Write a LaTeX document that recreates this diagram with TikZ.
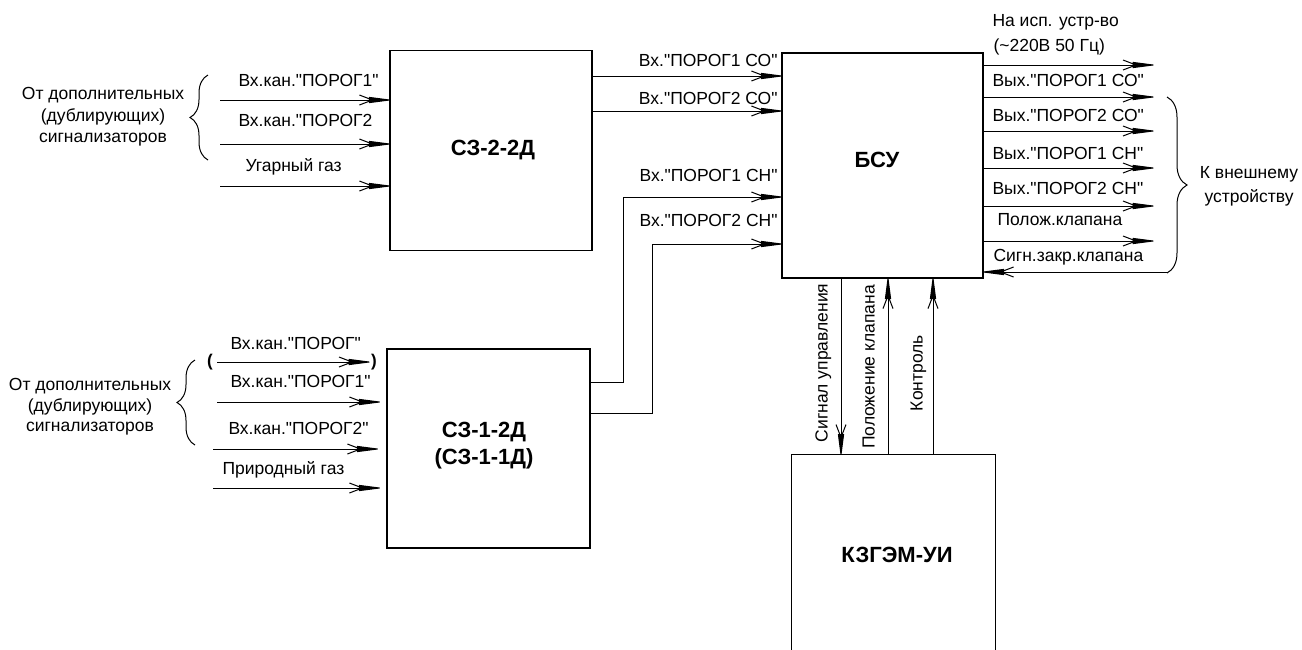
\documentclass[tikz,border=0pt]{standalone}
\usepackage{fontspec}
\setmainfont{Liberation Sans}[Ligatures=TeXOff]
\usetikzlibrary{arrows.meta,decorations.pathreplacing}
\pgfdeclarearrow{
  name=Dart,
  setup code={
    \pgfarrowssettipend{0pt}
    \pgfarrowssetlineend{-10pt}
    \pgfarrowssetbackend{-30pt}
    \pgfarrowshullpoint{0pt}{0pt}
    \pgfarrowshullpoint{-30pt}{5pt}
    \pgfarrowshullpoint{-30pt}{-5pt}
  },
  drawing code={
    \pgfsetdash{}{0pt}
    \pgfsetroundjoin
    \pgfpathmoveto{\pgfqpoint{0pt}{0pt}}
    \pgfpathlineto{\pgfqpoint{-20pt}{2.6pt}}
    \pgfpathlineto{\pgfqpoint{-20pt}{-2.6pt}}
    \pgfpathclose
    \pgfusepathqfillstroke
    \pgfpathmoveto{\pgfqpoint{-30pt}{5pt}}
    \pgfpathlineto{\pgfqpoint{-17pt}{0pt}}
    \pgfpathlineto{\pgfqpoint{-30pt}{-5pt}}
    \pgfusepathqstroke
  }
}
\begin{document}
\begin{tikzpicture}[x=1pt,y=-1pt,line width=1pt,
  font=\fontsize{17.5}{21}\selectfont,
  box/.style={draw,line width=1.2pt,inner sep=0pt},
  btxt/.style={inner sep=0pt,align=center,font=\fontsize{22}{27}\selectfont\bfseries},
  lbl/.style={inner sep=0pt,text height=12.5pt,text depth=3.5pt},
  arr/.style={-{Dart}},
  brc/.style={decorate,decoration={brace,amplitude=#1}},
  brc/.default=18pt]
\useasboundingbox (0,0) rectangle (1302,649);

% boxes
\node[box,minimum width=202pt,minimum height=200pt] (s22) at (491,150.5) {};
\node[btxt] (s22t) at (493,150) {СЗ-2-2Д};
\node[box,minimum width=201pt,minimum height=225pt] (bsu) at (882.5,165.5) {};
\node[btxt] (bsut) at (877,160) {БСУ};
\node[box,minimum width=203pt,minimum height=199pt] (s12) at (488.5,448.5) {};
\node[btxt] (s12t) at (484,446) {СЗ-1-2Д\\(СЗ-1-1Д)};
\node[minimum width=203pt,minimum height=200pt,inner sep=0pt] (kz) at (893.5,555) {};
\node[btxt] (kzt) at (897,555) {КЗГЭМ-УИ};
\draw[line width=1.2pt] (kz.south west) |- (kz.north east) -- (kz.south east);

% top-left inputs
\node[align=center,font=\fontsize{17.5}{21.5}\selectfont] (src1) at (103,117) {От дополнительных\\(дублирующих)\\сигнализаторов};
\coordinate (b1a) at (208,160); \coordinate (b1b) at (208,75);
\draw[brc] (b1a) -- (b1b);
\coordinate (a1) at (220,100); \coordinate (a2) at (220,144); \coordinate (a3) at (220,186);
\draw[arr] (a1) -- (a1 -| s22.west);
\draw[arr] (a2) -- (a2 -| s22.west);
\draw[arr] (a3) -- (a3 -| s22.west);
\node[lbl,anchor=west] (la1) at (238,82) {Вх.кан."ПОРОГ1"};
\node[lbl,anchor=west] (la2) at (238,122) {Вх.кан."ПОРОГ2};
\node[lbl,anchor=west] (la3) at (245,167) {Угарный газ};

% bottom-left inputs
\node[align=center,font=\fontsize{17.5}{20.5}\selectfont] (src2) at (90,407) {От дополнительных\\(дублирующих)\\сигнализаторов};
\coordinate (b2a) at (195,445); \coordinate (b2b) at (195,360);
\draw[brc] (b2a) -- (b2b);
\node[inner sep=0pt,font=\fontsize{17}{21}\selectfont\bfseries] (pl) at (210,362) {(};
\node[inner sep=0pt,font=\fontsize{17}{21}\selectfont\bfseries] (pr) at (374,362) {)};
\coordinate (c0) at (217,362); \coordinate (c0e) at (369,362);
\draw[arr] (c0) -- (c0e);
\coordinate (c1) at (217,402); \coordinate (c2) at (213,449); \coordinate (c3) at (213,488);
\draw[arr,shorten >=7pt] (c1) -- (c1 -| s12.west);
\draw[arr,shorten >=9pt] (c2) -- (c2 -| s12.west);
\draw[arr,shorten >=7pt] (c3) -- (c3 -| s12.west);
\node[lbl,anchor=west] (lc0) at (230,345) {Вх.кан."ПОРОГ"};
\node[lbl,anchor=west] (lc1) at (230,383) {Вх.кан."ПОРОГ1"};
\node[lbl,anchor=west] (lc2) at (228,430) {Вх.кан."ПОРОГ2"};
\node[lbl,anchor=west] (lc3) at (222,470) {Природный газ};

% to BSU
\coordinate (k1) at (0,76); \coordinate (k2) at (0,111);
\draw[arr] (s22.east |- k1) -- (bsu.west |- k1);
\draw[arr] (s22.east |- k2) -- (bsu.west |- k2);
\coordinate (m1) at (623,197); \coordinate (m2) at (652,244);
\coordinate (n1) at (0,382); \coordinate (n2) at (0,413);
\draw[arr] (s12.east |- n1) -| (m1) -- (bsu.west |- m1);
\draw[arr] (s12.east |- n2) -| (m2) -- (bsu.west |- m2);
\node[lbl,anchor=east] (lk1) at (778,62) {Вх."ПОРОГ1 СО"};
\node[lbl,anchor=east] (lk2) at (778,100) {Вх."ПОРОГ2 СО"};
\node[lbl,anchor=east] (lm1) at (778,177) {Вх."ПОРОГ1 СН"};
\node[lbl,anchor=east] (lm2) at (778,222) {Вх."ПОРОГ2 СН"};

% outputs
\coordinate (o1) at (1153,65); \coordinate (o2) at (1153,97); \coordinate (o3) at (1153,131);
\coordinate (o4) at (1153,168); \coordinate (o5) at (1153,206); \coordinate (o6) at (1153,241);
\coordinate (o7) at (1167,272);
\foreach \o in {o1,o2,o3,o4,o5,o6} {\draw[arr] (bsu.east |- \o) -- (\o);}
\draw[arr] (o7) -- (o7 -| bsu.east);
\node[lbl,anchor=west] (lo0a) at (992,22) {На исп. устр-во};
\node[lbl,anchor=west] (lo0b) at (993,47) {(\textasciitilde220В 50 Гц)};
\node[lbl,anchor=west] (lo1) at (992,82) {Вых."ПОРОГ1 СО"};
\node[lbl,anchor=west] (lo2) at (992,117) {Вых."ПОРОГ2 СО"};
\node[lbl,anchor=west] (lo3) at (992,155) {Вых."ПОРОГ1 СН"};
\node[lbl,anchor=west] (lo4) at (992,190) {Вых."ПОРОГ2 СН"};
\node[lbl,anchor=west] (lo5) at (997,221) {Полож.клапана};
\node[lbl,anchor=west] (lo6) at (993,257) {Сигн.закр.клапана};
\coordinate (b3a) at (1167,97); \coordinate (b3b) at (1167,273);
\draw[brc=20pt] (b3a) -- (b3b);
\node[align=center,font=\fontsize{17.5}{24}\selectfont] (ext) at (1249,186) {К внешнему\\устройству};

% BSU <-> KZGEM
\coordinate (v1) at (841,0); \coordinate (v2) at (888,0); \coordinate (v3) at (933,0);
\draw[arr] (v1 |- bsu.south) -- (v1 |- kz.north);
\draw[arr] (v2 |- kz.north) -- (v2 |- bsu.south);
\draw[arr] (v3 |- kz.north) -- (v3 |- bsu.south);
\node[lbl,rotate=90] (lv1) at (823,363) {Сигнал управления};
\node[lbl,rotate=90] (lv2) at (870,367) {Положение клапана};
\node[lbl,rotate=90] (lv3) at (918,373) {Контроль};
\end{tikzpicture}
\end{document}
